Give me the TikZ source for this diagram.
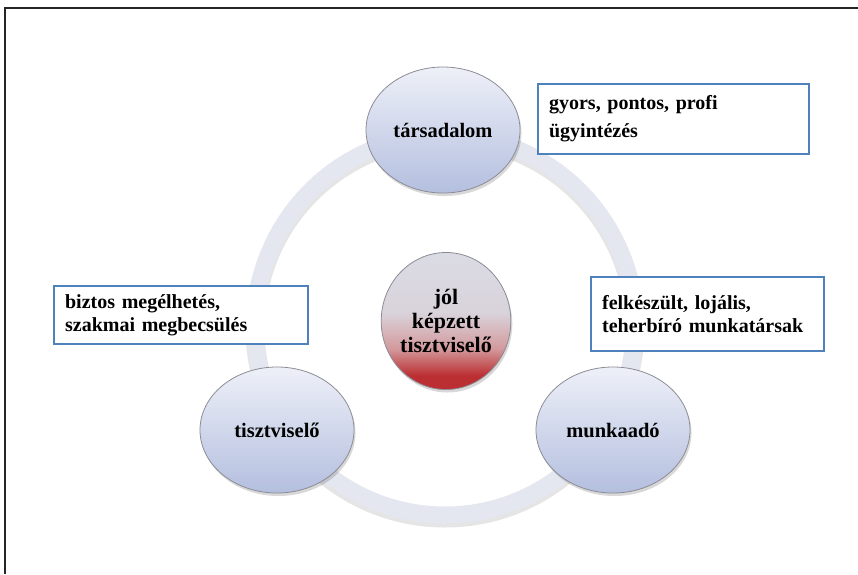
\documentclass[tikz,border=0pt]{standalone}
\usepackage{fontspec}
\setmainfont{Liberation Serif}[BoldFont={Liberation Serif Bold}]
\usetikzlibrary{shapes.geometric,shadows}

\definecolor{ringcol}{HTML}{E4E7F0}
\definecolor{sattop}{HTML}{EEF0F8}
\definecolor{satbot}{HTML}{B4BFDF}
\definecolor{satedge}{HTML}{8C8C96}
\definecolor{coretop}{HTML}{DADBE4}
\definecolor{coremid}{HTML}{D9D3DB}
\definecolor{corepink}{HTML}{D39A9D}
\definecolor{corered}{HTML}{BB2E31}
\definecolor{boxedge}{HTML}{4F81BD}

% light at the top, turning red in the lower part
\pgfdeclareverticalshading{coreshade}{100bp}{%
  color(0bp)=(corered); color(25bp)=(corered); color(30bp)=(corered);
  color(40bp)=(corepink); color(53bp)=(coremid); color(75bp)=(coretop);
  color(100bp)=(coretop)}

\tikzset{
  softshadow/.style={drop shadow={shadow xshift=1.5pt, shadow yshift=-3pt,
      opacity=0.22, fill=black!70}},
  sat/.style={ellipse, minimum width=154pt, minimum height=126pt, inner sep=0pt,
    draw=satedge, line width=0.8pt, top color=sattop, bottom color=satbot,
    softshadow, font=\bfseries\fontsize{20.5}{24}\selectfont},
  core/.style={ellipse, minimum width=125pt, minimum height=137pt, inner sep=0pt,
    draw=satedge, line width=0.8pt, shading=coreshade, softshadow, align=center,
    font=\bfseries\fontsize{22}{24}\selectfont},
  note/.style={anchor=north west, draw=boxedge, line width=2.2pt, fill=white,
    inner xsep=11pt, inner ysep=0pt, align=left,
    font=\bfseries\fontsize{20}{23}\selectfont\frenchspacing},
  frameline/.style={line width=1.6pt, draw=black!85},
}

\begin{document}
\frenchspacing
\begin{tikzpicture}[x=1pt,y=-1pt]
  \useasboundingbox (0,0) rectangle (858,574);

  % outer frame (top and left edges)
  \coordinate (fl) at (5,574);
  \coordinate (fc) at (5,8);
  \coordinate (fr) at (858,8);
  \draw[frameline] (fl) -- (fc) -- (fr);

  % ring linking the three parties
  \coordinate (hub) at (445,325);
  \draw[line width=19pt, black!10] ([yshift=-3pt]hub) circle (190);
  \draw[line width=17pt, ringcol] (hub) circle (190);

  % the three parties
  \node[sat] (soc) at (443,130) {társadalom};
  \node[sat] (civ) at (277,430) {tisztviselő};
  \node[sat] (emp) at (613,430) {munkaadó};

  % centre
  \node[core] (core) at (446,321) {jól\\képzett\\tisztviselő};

  % expectations
  \node[note, text width=249pt, minimum height=70pt,
        font=\bfseries\fontsize{20}{28}\selectfont\frenchspacing]
        (socnote) at (537,83) {gyors, pontos, profi\\ügyintézés};
  \node[note, text width=232pt, minimum height=58pt]
        (civnote) at (53,285) {biztos megélhetés,\\szakmai megbecsülés};
  \node[note, text width=211pt, minimum height=74pt]
        (empnote) at (590,276) {felkészült, lojális,\\teherbíró munkatársak};
\end{tikzpicture}
\end{document}
